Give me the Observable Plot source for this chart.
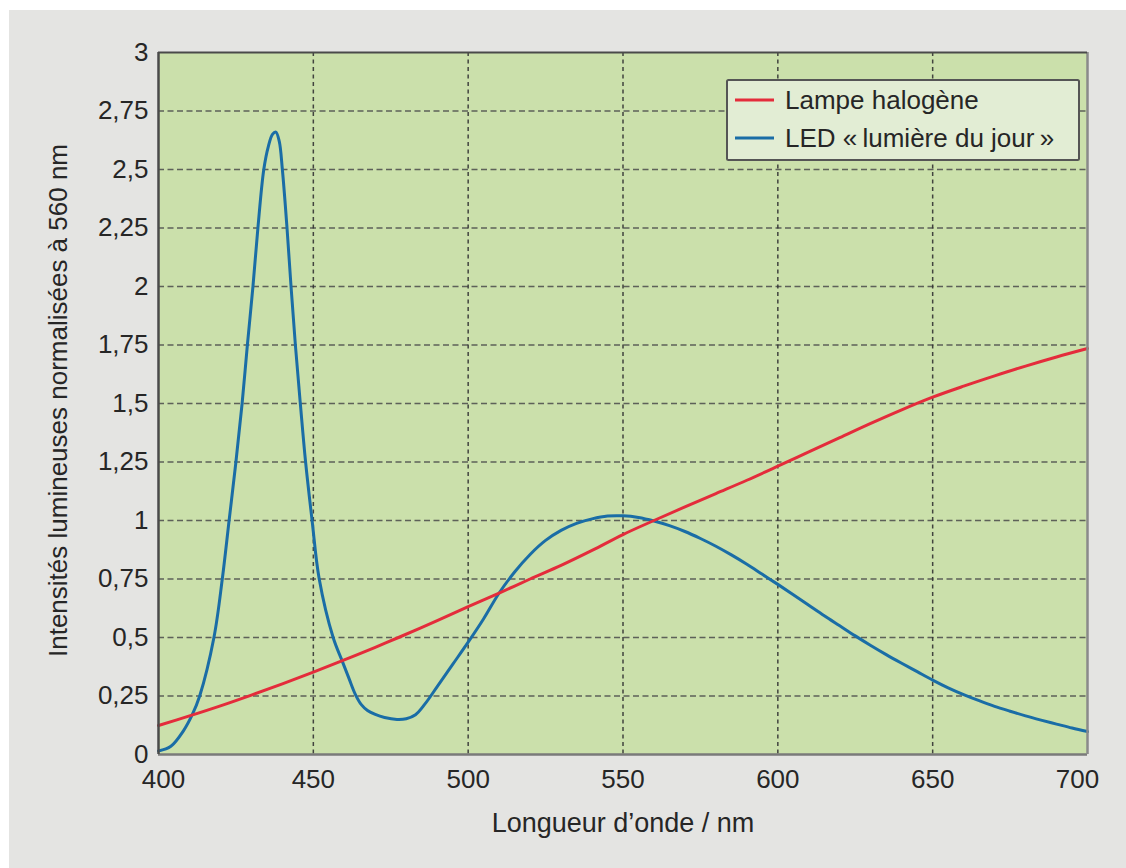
<!DOCTYPE html>
<html>
<head>
<meta charset="utf-8">
<script src="https://cdn.jsdelivr.net/npm/d3@7"></script>
<script src="https://cdn.jsdelivr.net/npm/@observablehq/plot@0.6"></script>
<style>
  html, body { margin: 0; padding: 0; background: #ffffff; }
  #panel { position: absolute; left: 9px; top: 10px; width: 1117px; height: 858px; background: #e4e4e2; }
  #panel svg { display: block; }
</style>
</head>
<body>
<div id="panel"></div>
<script>
// ---- Data ----
const seriesNames = ["Lampe halogène", "LED\u00a0«\u2009lumière du jour\u2009»"];
const seriesColors = ["#e42c3b", "#1a6da6"];

// Lampe halogène
const halogenWavelength = [400, 410, 420, 430, 440, 450, 460, 470, 477.5, 490, 500, 510, 520, 530, 540, 550, 560, 570, 580, 590, 600, 610, 620, 630, 640, 650, 660, 670, 680, 690, 700];
const halogenIntensity  = [0.124, 0.165, 0.208, 0.254, 0.302, 0.352, 0.404, 0.458, 0.5, 0.572, 0.632, 0.69, 0.75, 0.808, 0.872, 0.94, 1.0, 1.058, 1.115, 1.172, 1.232, 1.293, 1.354, 1.415, 1.473, 1.527, 1.574, 1.618, 1.66, 1.699, 1.735];

// LED « lumière du jour »
const ledWavelength = [400, 404, 408, 410.9, 413.3, 417.9, 420.6, 422.8, 425.0, 427.0, 428.7, 430.5, 432.1, 434.0, 435.5, 436.8, 437.9, 439.0, 440.0, 441.5, 442.8, 444.2, 445.8, 447.5, 449.6, 451.9, 456.4, 459.3, 461.6, 463.6, 465.5, 467.5, 470, 473, 477, 480, 483, 486, 490, 495, 500, 505, 510, 515, 520, 525, 530, 535, 540, 545, 550, 555, 560, 565, 570, 575, 580, 585, 590, 595, 600, 605, 610, 615, 620, 625, 630, 635, 640, 645, 650, 655, 660, 665, 670, 675, 680, 685, 690, 695, 700];
const ledIntensity  = [0.015, 0.035, 0.1, 0.17, 0.25, 0.5, 0.75, 1.0, 1.25, 1.5, 1.75, 2.0, 2.25, 2.5, 2.6, 2.65, 2.66, 2.62, 2.5, 2.25, 2.0, 1.75, 1.5, 1.25, 1.0, 0.75, 0.5, 0.4, 0.322, 0.256, 0.213, 0.188, 0.171, 0.158, 0.15, 0.153, 0.17, 0.215, 0.29, 0.385, 0.48, 0.58, 0.69, 0.78, 0.855, 0.915, 0.958, 0.988, 1.007, 1.019, 1.02, 1.013, 0.998, 0.978, 0.953, 0.923, 0.89, 0.853, 0.813, 0.77, 0.727, 0.683, 0.638, 0.593, 0.55, 0.507, 0.466, 0.427, 0.39, 0.354, 0.318, 0.285, 0.256, 0.23, 0.206, 0.185, 0.165, 0.147, 0.13, 0.113, 0.098];

// Axes
const xTicks = [400, 450, 500, 550, 600, 650, 700];
const yTicks = [0, 0.25, 0.5, 0.75, 1, 1.25, 1.5, 1.75, 2, 2.25, 2.5, 2.75, 3];
const xGrid = [450, 500, 550, 600, 650];
const yGrid = [0.25, 0.5, 0.75, 1, 1.25, 1.5, 1.75, 2, 2.25, 2.5, 2.75];
const xTitle = "Longueur d’onde / nm";
const yTitle = "Intensités lumineuses normalisées à 560 nm";

// ---- Build tables ----
const halogen = halogenWavelength.map((w, i) => ({w, v: halogenIntensity[i]}));
const led = ledWavelength.map((w, i) => ({w, v: ledIntensity[i]}));

const font = "'Liberation Sans', Arial, Helvetica, sans-serif";
const textColor = "#262626";

const chart = Plot.plot({
  width: 1117,
  height: 858,
  marginLeft: 149,
  marginRight: 39,
  marginTop: 42,
  marginBottom: 114,
  style: {background: "transparent", fontFamily: font, fontSize: "26px", color: textColor},
  x: {domain: [400, 700], label: null},
  y: {domain: [0, 3], label: null},
  marks: [
    Plot.frame({fill: "#cbe0ab", stroke: null}),
    Plot.ruleY(yGrid, {stroke: "#4a4a4a", strokeWidth: 1.6, strokeDasharray: "6,3.5", strokeOpacity: 0.85}),
    Plot.ruleX(xGrid, {stroke: "#333333", strokeWidth: 1.5, strokeDasharray: "4,3.5", strokeOpacity: 0.9}),
    Plot.line(led, {x: "w", y: "v", stroke: seriesColors[1], strokeWidth: 3, curve: "catmull-rom"}),
    Plot.line(halogen, {x: "w", y: "v", stroke: seriesColors[0], strokeWidth: 3, curve: "catmull-rom"}),
    Plot.ruleY([0], {stroke: "#7a7a7a", strokeWidth: 2.5}),
    Plot.ruleX([700], {stroke: "#8a8a8a", strokeWidth: 2.5}),
    Plot.ruleY([3], {stroke: "#4a4a4a", strokeWidth: 2}),
    Plot.ruleX([400], {stroke: "#4a4a4a", strokeWidth: 2.5}),
    Plot.axisX(xTicks.slice(1, -1), {tickSize: 0, tickPadding: 15, tickFormat: d => String(d), fontSize: 26, label: null}),
    Plot.axisX(xTicks.slice(0, 1), {tickSize: 0, tickPadding: 15, tickFormat: d => String(d), fontSize: 26, label: null, dx: 5}),
    Plot.axisX(xTicks.slice(-1), {tickSize: 0, tickPadding: 15, tickFormat: d => String(d), fontSize: 26, label: null, dx: -10}),
    Plot.axisY(yTicks, {tickSize: 0, tickPadding: 10, tickFormat: d => String(d).replace(".", ","), fontSize: 26, label: null}),
    Plot.text([xTitle], {frameAnchor: "bottom", dy: 77, fontSize: 27, fill: textColor}),
    Plot.text([yTitle], {frameAnchor: "left", textAnchor: "middle", rotate: -90, dx: -100, dy: -3, fontSize: 26, fill: textColor})
  ]
});

const panel = document.getElementById("panel");
panel.appendChild(chart);

// ---- Legend (inside the plot area, top right) ----
const ns = "http://www.w3.org/2000/svg";
const leg = document.createElementNS(ns, "svg");
leg.setAttribute("width", 354);
leg.setAttribute("height", 82);
leg.style.position = "absolute";
leg.style.left = "717px";
leg.style.top = "69px";
const box = document.createElementNS(ns, "rect");
box.setAttribute("x", 1); box.setAttribute("y", 1);
box.setAttribute("width", 352); box.setAttribute("height", 80);
box.setAttribute("fill", "#e2edd4"); box.setAttribute("stroke", "#555555"); box.setAttribute("stroke-width", 2);
box.setAttribute("rx", 1.5);
leg.appendChild(box);
seriesNames.forEach((name, i) => {
  const yLine = 21 + i * 38;
  const ln = document.createElementNS(ns, "line");
  ln.setAttribute("x1", 9); ln.setAttribute("x2", 48);
  ln.setAttribute("y1", yLine); ln.setAttribute("y2", yLine);
  ln.setAttribute("stroke", seriesColors[i]); ln.setAttribute("stroke-width", 3);
  leg.appendChild(ln);
  const tx = document.createElementNS(ns, "text");
  tx.setAttribute("x", 59); tx.setAttribute("y", yLine + 9);
  tx.setAttribute("font-family", font);
  tx.setAttribute("font-size", 26);
  tx.setAttribute("fill", textColor);
  tx.textContent = name;
  leg.appendChild(tx);
});
panel.appendChild(leg);
</script>
</body>
</html>
